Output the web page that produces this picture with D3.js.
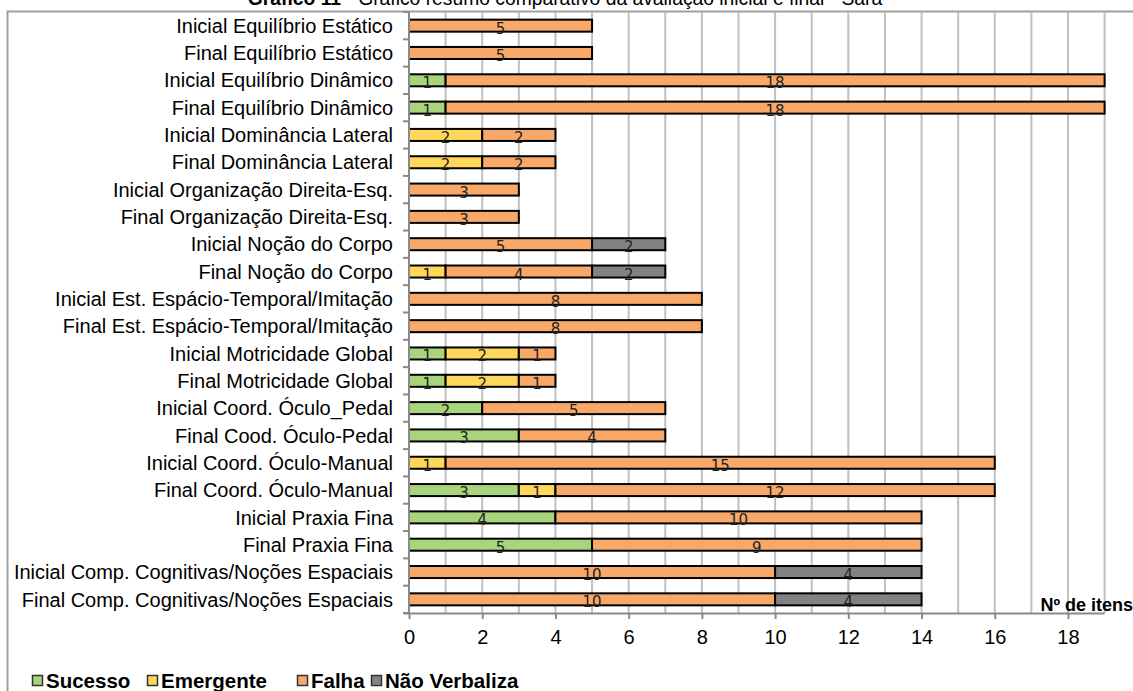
<!DOCTYPE html>
<html><head><meta charset="utf-8">
<script src="https://cdn.jsdelivr.net/npm/d3@7"></script>
<style>body{margin:0;background:#fff}svg{display:block}</style>
</head><body>
<svg id="c" width="1133" height="691"></svg>
<script>
const categories = [
 "Inicial Equilíbrio Estático","Final Equilíbrio Estático",
 "Inicial Equilíbrio Dinâmico","Final Equilíbrio Dinâmico",
 "Inicial Dominância Lateral","Final Dominância Lateral",
 "Inicial Organização Direita-Esq.","Final Organização Direita-Esq.",
 "Inicial Noção do Corpo","Final Noção do Corpo",
 "Inicial Est. Espácio-Temporal/Imitação","Final Est. Espácio-Temporal/Imitação",
 "Inicial Motricidade Global","Final Motricidade Global",
 "Inicial Coord. Óculo_Pedal","Final Cood. Óculo-Pedal",
 "Inicial Coord. Óculo-Manual","Final Coord. Óculo-Manual",
 "Inicial Praxia Fina","Final Praxia Fina",
 "Inicial Comp. Cognitivas/Noções Espaciais","Final Comp. Cognitivas/Noções Espaciais"];
const seriesNames = ["Sucesso","Emergente","Falha","Não Verbaliza"];
const sucesso     = [0,0,1,1,0,0,0,0,0,0,0,0,1,1,2,3,0,3,4,5,0,0];
const emergente   = [0,0,0,0,2,2,0,0,0,1,0,0,2,2,0,0,1,1,0,0,0,0];
const falha       = [5,5,18,18,2,2,3,3,5,4,8,8,1,1,5,4,15,12,10,9,10,10];
const naoVerbaliza= [0,0,0,0,0,0,0,0,2,2,0,0,0,0,0,0,0,0,0,0,4,4];
const xTicks = [0,2,4,6,8,10,12,14,16,18];
const colors = ["#A9D47B","#FFD75A","#F8A868","#828282"];

const svg = d3.select("#c");
const L = 409, R = 1104.6, T = 12, B = 613;
const x = d3.scaleLinear().domain([0,19]).range([L,R]);
const y = d3.scaleBand().domain(categories).range([T,B]).paddingInner(0.56).paddingOuter(0.28);

// chart border
svg.append("path").attr("d",`M7.5,691 V11.5 H1133`).attr("fill","none").attr("stroke","#a0a0a0").attr("stroke-width",2);

// title
const title = svg.append("text").attr("x",565).attr("y",5).attr("text-anchor","middle")
 .attr("font-family","Liberation Sans, Arial").attr("font-size",19.3).attr("fill","#000");
title.append("tspan").attr("font-weight","bold").text("Gráfico 11");
title.append("tspan").text(" - Gráfico resumo comparativo da avaliação inicial e final - Sara");

// gridlines
svg.append("g").selectAll("line").data(d3.range(1,20)).join("line")
 .attr("x1",d=>x(d)).attr("x2",d=>x(d)).attr("y1",T).attr("y2",B)
 .attr("stroke","#c0c0c0").attr("stroke-width",2);

// stacked bars
const data = categories.map((c,i)=>({cat:c, Sucesso:sucesso[i], Emergente:emergente[i], Falha:falha[i], "Não Verbaliza":naoVerbaliza[i]}));
const stack = d3.stack().keys(seriesNames)(data);
stack.forEach((s,si)=>{
  const g = svg.append("g");
  s.forEach(d=>{
    if (d[1]-d[0] <= 0) return;
    const yy = y(d.data.cat);
    g.append("rect").attr("x",x(d[0])).attr("y",yy).attr("width",x(d[1])-x(d[0])).attr("height",y.bandwidth())
     .attr("fill",colors[si]).attr("stroke","#000").attr("stroke-width",2);
  });
});
stack.forEach((s,si)=>{
  s.forEach(d=>{
    const v = d[1]-d[0];
    if (v <= 0) return;
    svg.append("text").attr("x",(x(d[0])+x(d[1]))/2).attr("y",y(d.data.cat)+y.bandwidth()/2+8)
     .attr("text-anchor","middle").attr("font-family","DejaVu Sans, Verdana").attr("font-size",15)
     .attr("fill","#222").text(v);
  });
});

// y axis
const ya = svg.append("g").attr("transform",`translate(${L},0)`);
ya.append("line").attr("x1",0).attr("x2",0).attr("y1",T).attr("y2",B).attr("stroke","#8a8a8a").attr("stroke-width",2);
const step = (B-T)/categories.length;
ya.selectAll(".tk").data(d3.range(0,categories.length+1)).join("line")
 .attr("x1",-6).attr("x2",0).attr("y1",d=>T+d*step).attr("y2",d=>T+d*step).attr("stroke","#8a8a8a").attr("stroke-width",2);
ya.selectAll("text").data(categories).join("text")
 .attr("x",-16).attr("y",d=>y(d)+y.bandwidth()/2).attr("dy","0.36em").attr("text-anchor","end")
 .attr("font-family","Liberation Sans, Arial").attr("font-size",20).attr("fill","#000").text(d=>d);

// x axis
const xa = svg.append("g").attr("transform",`translate(0,${B})`)
 .call(d3.axisBottom(x).tickValues(xTicks).tickSize(6).tickPadding(11).tickFormat(d3.format("d")));
xa.select(".domain").attr("d",`M${L-5},0.5H${R}`).attr("stroke","#8a8a8a").attr("stroke-width",2);
xa.selectAll(".tick line").attr("stroke","#8a8a8a").attr("stroke-width",2);
xa.selectAll(".tick text").attr("font-family","Liberation Sans, Arial").attr("font-size",20).attr("fill","#000");

svg.append("text").attr("x",1133).attr("y",B-2).attr("text-anchor","end")
 .attr("font-family","Liberation Sans, Arial").attr("font-weight","bold").attr("font-size",18).text("Nº de itens");

// legend
const legX = [32,147,297,371];
const lg = svg.append("g");
seriesNames.forEach((n,i)=>{
  lg.append("rect").attr("x",legX[i]+0.5).attr("y",675.5).attr("width",10).attr("height",10)
   .attr("fill",colors[i]).attr("stroke","#333").attr("stroke-width",1.5);
  lg.append("text").attr("x",legX[i]+14).attr("y",688).attr("font-family","Liberation Sans, Arial")
   .attr("font-weight","bold").attr("font-size",20.5).text(n);
});
</script>
</body></html>
